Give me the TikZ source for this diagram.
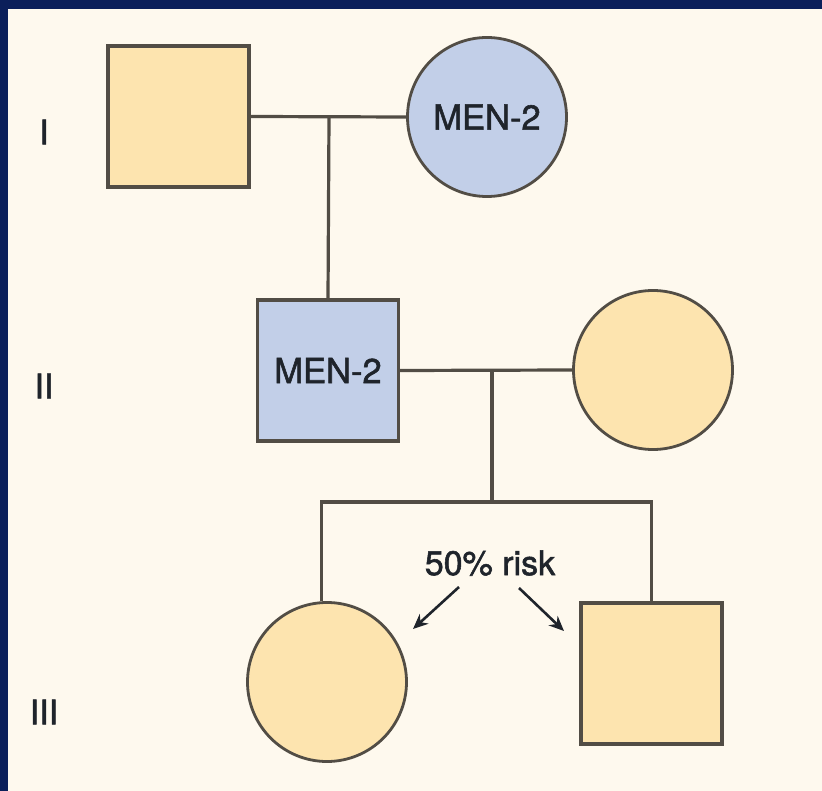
\documentclass[tikz,border=0pt]{standalone}
\usepackage{fontspec}
\setmainfont{TeX Gyre Heros}
\newfontfamily\heavyfont[FakeBold=1.6]{TeX Gyre Heros}
\usetikzlibrary{arrows.meta}
\definecolor{bgc}{HTML}{FEF9EE}
\definecolor{navy}{HTML}{0B1F5A}
\definecolor{tan}{HTML}{FDE4AF}
\definecolor{bluef}{HTML}{C2CFE8}
\definecolor{edge}{HTML}{524D45}
\definecolor{txt}{HTML}{1F242B}
\tikzset{
  sqbox/.style={draw=edge, line width=3.2pt, rectangle, minimum size=141pt, inner sep=0pt, text=txt, font=\heavyfont\fontsize{34.5}{38}\selectfont},
  circbox/.style={draw=edge, line width=2.8pt, circle, minimum size=159pt, inner sep=0pt, text=txt, font=\heavyfont\fontsize{34.5}{38}\selectfont},
  affected/.style={fill=bluef},
  normal/.style={fill=tan},
  link/.style={draw=edge, line width=3.2pt},
  gen/.style={text=txt, font=\heavyfont\fontsize{34}{38}\selectfont},
  riskarrow/.style={draw=txt, line width=2.6pt, -{Stealth[length=15pt,width=13pt]}}
}
\begin{document}
\begin{tikzpicture}[x=1pt,y=-1pt]
\useasboundingbox (0,0) rectangle (822,791);
\fill[bgc] (0,0) rectangle (822,791);
\fill[navy] (0,0) rectangle (822,9);
\fill[navy] (0,0) rectangle (8,791);

% generation labels
\node[gen] (gI) at (44,132) {I};
\node[gen] (gII) at (44,386) {II};
\node[gen] (gIII) at (44,712) {III};

% generation I
\node[sqbox,normal] (f1) at (178.5,116.5) {};
\node[circbox,affected] (m1) at (487,117) {MEN-2};
\coordinate (c1) at (329,117);
\draw[link] (f1.east) -- (m1.west);

% generation II
\node[sqbox,affected] (f2) at (328,370.5) {MEN-2};
\node[circbox,normal] (m2) at (653,370) {};
\coordinate (c2) at (492,370);
\draw[link] (c1) -- (f2.north);
\draw[link] (f2.east) -- (m2.west);

% generation III
\node[circbox,normal] (d3) at (327,682) {};
\node[sqbox,normal] (s3) at (651.5,673.5) {};
\coordinate (c3) at (492,502);
\coordinate (l3) at (d3.94 |- c3);
\coordinate (r3) at (s3.north |- c3);
\draw[link] (c2) -- (c3);
\draw[link] (d3.94) -- (l3) -- (r3) -- (s3.north);

% risk label
\node[gen, font=\heavyfont\fontsize{34}{38}\selectfont] (risk) at (490,563) {50\% risk};
\coordinate (ra) at (459,587);
\coordinate (rb) at (519,588);
\draw[riskarrow] (ra) -- (413,629);
\draw[riskarrow] (rb) -- (564,631);
\end{tikzpicture}
\end{document}
